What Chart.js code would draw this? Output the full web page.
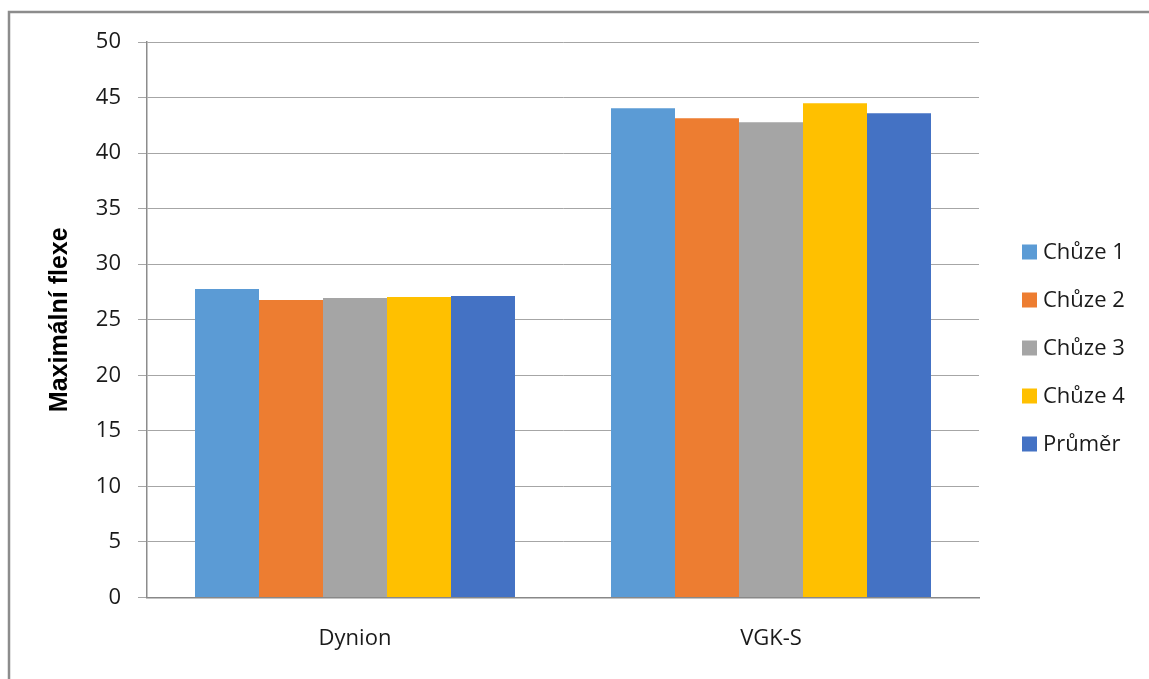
<!DOCTYPE html>
<html><head><meta charset="utf-8">
<script src="https://cdn.jsdelivr.net/npm/chart.js@4/dist/chart.umd.min.js"></script>
<style>html,body{margin:0;padding:0;background:#fff;overflow:hidden}#wrap{position:relative;width:1149px;height:679px}</style>
</head><body><div id="wrap"><canvas id="c" width="1149" height="679"></canvas></div>
<script>
const categories = ['Dynion', 'VGK-S'];
const seriesNames = ['Chůze 1', 'Chůze 2', 'Chůze 3', 'Chůze 4', 'Průměr'];
const chuze1 = [27.77, 44.03];
const chuze2 = [26.78, 43.13];
const chuze3 = [26.96, 42.77];
const chuze4 = [27.05, 44.48];
const prumer = [27.14, 43.58];
const yTicks = [0, 5, 10, 15, 20, 25, 30, 35, 40, 45, 50];
const yTitle = 'Maximální flexe';
const colors = ['#5B9BD5', '#ED7D31', '#A5A5A5', '#FFC000', '#4472C4'];

const seriesValues = [chuze1, chuze2, chuze3, chuze4, prumer];
const datasets = seriesNames.map((n, i) => ({
  label: n, data: seriesValues[i], backgroundColor: colors[i],
  borderWidth: 0, categoryPercentage: 5 / 6.5, barPercentage: 1
}));

const framePlugin = {
  id: 'frame',
  beforeDraw(chart) {
    const ctx = chart.ctx;
    ctx.save();
    ctx.fillStyle = '#fff';
    ctx.fillRect(0, 0, chart.width, chart.height);
    ctx.strokeStyle = '#8c8c8c';
    ctx.lineWidth = 2.5;
    ctx.strokeRect(9, 12, 1300, 800);
    ctx.restore();
  }
};

const legendPlugin = {
  id: 'customLegend',
  afterDraw(chart) {
    const ctx = chart.ctx;
    ctx.save();
    ctx.font = '22px "Open Sans"';
    ctx.textBaseline = 'middle';
    ctx.textAlign = 'left';
    chart.data.datasets.forEach((ds, i) => {
      const cy = 252 + i * 48;
      ctx.fillStyle = ds.backgroundColor;
      ctx.fillRect(1022, cy - 7.5, 15, 15);
      ctx.fillStyle = '#1a1a1a';
      ctx.fillText(ds.label, 1043, cy + 1);
    });
    ctx.restore();
  }
};

new Chart(document.getElementById('c'), {
  type: 'bar',
  data: { labels: categories, datasets },
  options: {
    responsive: false, animation: false, devicePixelRatio: 1,
    layout: { padding: { left: 0, right: 170, top: 42, bottom: 0 } },
    plugins: { legend: { display: false }, tooltip: { enabled: false } },
    scales: {
      x: {
        grid: { display: false, drawTicks: false },
        border: { display: true, color: '#888888', width: 1.5 },
        ticks: { font: { family: 'Open Sans', size: 22 }, color: '#1a1a1a', padding: 28 },
        afterFit(s) { s.height = 81.5; }
      },
      y: {
        min: 0, max: 50,
        afterBuildTicks(s) { s.ticks = yTicks.map(v => ({ value: v })); },
        grid: { color: '#a6a6a6', lineWidth: 1, tickLength: 9, drawTicks: true },
        border: { display: true, color: '#8c8c8c', width: 1.5 },
        ticks: { font: { family: 'Open Sans', size: 22 }, color: '#1a1a1a', padding: 17 },
        title: { display: true, text: yTitle, font: { family: 'Liberation Sans', size: 25, weight: 'bold' }, color: '#000', padding: { top: 45, bottom: 0 } },
        afterFit(s) { s.width = 147; }
      }
    }
  },
  plugins: [framePlugin, legendPlugin]
});
</script>
</body></html>
